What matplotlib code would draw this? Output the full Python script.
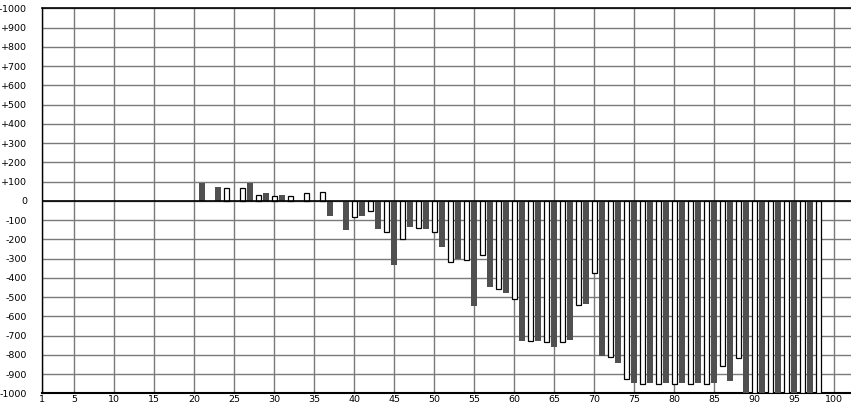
import matplotlib
matplotlib.use("Agg")
import matplotlib.pyplot as plt
import numpy as np

# data
positions = list(range(21, 99))
values = [90, 0, 70, 68, 0, 68, 90, 32, 43, 26,
          28, 26, 0, 42, 0, 47, -80, 0, -150, -85,
          -80, -52, -145, -162, -335, -198, -137, -141, -148, -162,
          -242, -318, -304, -307, -549, -281, -450, -458, -481, -510,
          -726, -729, -726, -731, -757, -734, -721, -542, -538, -375,
          -807, -812, -840, -926, -949, -950, -949, -950, -949, -950,
          -949, -950, -949, -950, -949, -858, -935, -817, -1000, -1000,
          -1000, -1000, -1000, -1000, -1000, -1000, -1000, -1000]
x_ticks = [1, 5, 10, 15, 20, 25, 30, 35, 40, 45, 50, 55, 60, 65, 70, 75, 80, 85, 90, 95, 100]
y_ticks = list(range(-1000, 1001, 100))

fig = plt.figure(figsize=(8.51, 4.05), dpi=100)
ax = fig.add_axes([42.3 / 851, 11.7 / 405, 1 - 42.3 / 851, 385 / 405])

pos = np.array(positions)
val = np.array(values, dtype=float)
nz = val != 0
odd = (pos % 2 == 1) & nz
even = (pos % 2 == 0) & nz

ax.bar(pos[odd], val[odd], width=0.72, color="#505050", edgecolor="none", zorder=3)
ax.bar(pos[even], val[even], width=0.68, color="white", edgecolor="black", linewidth=0.9, zorder=3)

ax.axhline(0, color="black", linewidth=1.2, zorder=4)

ax.set_xlim(1, (851 - 34.3) / 8)
ax.set_ylim(-1000, 1000)

ax.set_xticks(x_ticks)
ax.set_xticklabels([str(t) for t in x_ticks])
ax.set_yticks(y_ticks)

def fmt(v):
    if v > 0:
        return "+%d" % v
    if v < 0:
        return "-%d" % (-v)
    return "0"

ax.set_yticklabels([fmt(v) for v in y_ticks])

ax.grid(True, color="#7a7a7a", linewidth=1.0, zorder=0)
ax.set_axisbelow(True)

ax.tick_params(axis="y", length=0, pad=11, labelsize=6.8)
ax.tick_params(axis="x", length=0, pad=1.5, labelsize=6.8)

for s in ["left", "top", "bottom"]:
    ax.spines[s].set_color("black")
ax.spines["left"].set_linewidth(1.0)
ax.spines["top"].set_linewidth(1.2)
ax.spines["bottom"].set_linewidth(1.5)
ax.spines["right"].set_visible(False)

fig.savefig("out.png", dpi=100)
